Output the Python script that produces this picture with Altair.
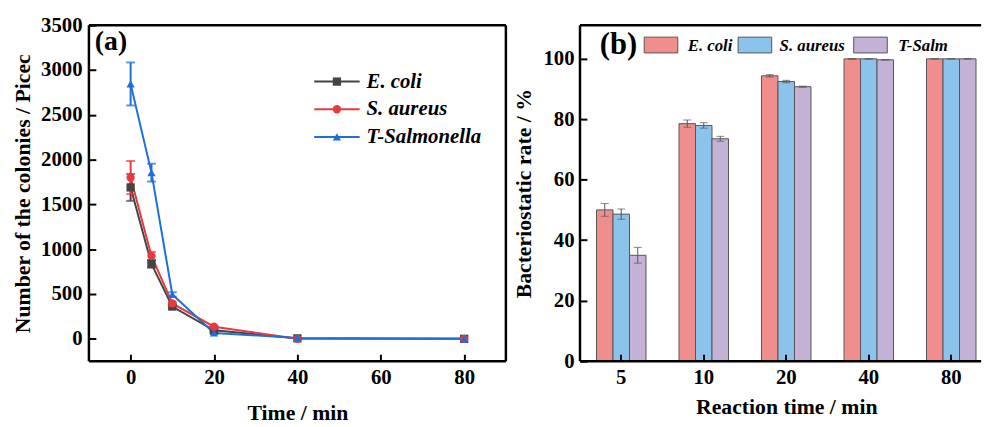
import altair as alt
import pandas as pd

# ---------------- data: panel (a) ----------------
times = [0, 5, 10, 20, 40, 80]
series_a = ["E. coli", "S. aureus", "T-Salmonella"]
ecoli_counts = [1690, 835, 360, 95, 5, 0]
ecoli_err = [150, 40, 20, 10, 0, 0]
saureus_counts = [1800, 925, 395, 135, 0, 0]
saureus_err = [185, 45, 20, 10, 0, 0]
tsal_counts = [2845, 1855, 495, 65, 10, 0]
tsal_err = [240, 100, 25, 10, 0, 0]

# ---------------- data: panel (b) ----------------
reaction_times = ["5", "10", "20", "40", "80"]
series_b = ["E. coli", "S. aureus", "T-Salm"]
ecoli_rate = [50.0, 78.5, 94.3, 99.9, 99.9]
ecoli_rate_err = [2.1, 1.2, 0.4, 0.1, 0.05]
saureus_rate = [48.6, 77.9, 92.4, 99.9, 99.9]
saureus_rate_err = [1.7, 0.9, 0.4, 0.1, 0.05]
tsalm_rate = [35.0, 73.5, 90.7, 99.6, 99.9]
tsalm_rate_err = [2.6, 0.8, 0.2, 0.1, 0.05]

FONT = "Liberation Serif"
colors_a = ["#444444", "#e8393e", "#1f6fd6"]
shapes_a = ["square", "circle", "triangle-up"]
colors_b = ["#f08e8e", "#8bc3ea", "#c3b1d6"]

# ---------- build tables ----------
rows = []
for s, vals, errs in zip(series_a, [ecoli_counts, saureus_counts, tsal_counts],
                         [ecoli_err, saureus_err, tsal_err]):
    for t, v, e in zip(times, vals, errs):
        rows.append({"time": t, "series": s, "count": v, "lo": v - e, "hi": v + e, "err": e})
df_a = pd.DataFrame(rows)
df_a_err = df_a[df_a["err"] > 0]

rows = []
for s, vals, errs in zip(series_b, [ecoli_rate, saureus_rate, tsalm_rate],
                         [ecoli_rate_err, saureus_rate_err, tsalm_rate_err]):
    for t, v, e in zip(reaction_times, vals, errs):
        rows.append({"rtime": t, "strain": s, "rate": v, "rlo": v - e, "rhi": v + e})
df_b = pd.DataFrame(rows)

AX = dict(labelFont=FONT, titleFont=FONT, labelFontSize=21, titleFontSize=22,
          labelFontWeight="bold", titleFontWeight="bold", labelColor="black", titleColor="black",
          zindex=1)

# ---------------- panel (a) ----------------
W_A, H_A = 422, 340
TICK = 7

x_a = alt.X("time:Q", scale=alt.Scale(domain=[-10, 90], nice=False, zero=False),
            axis=alt.Axis(values=[0, 20, 40, 60, 80], title="Time / min", domain=False, ticks=False,
                          grid=True, gridDash=[0, H_A - TICK, TICK, 0], gridColor="black", gridWidth=2,
                          gridOpacity=1, labelPadding=6, titlePadding=15, format="d", **AX))
y_a = alt.Y("count:Q", scale=alt.Scale(domain=[-250, 3500], nice=False, zero=False),
            axis=alt.Axis(values=list(range(0, 3501, 500)), title="Number of the colonies / Picec",
                          domain=False, ticks=False, grid=True, gridDash=[TICK, 3000], gridColor="black",
                          gridWidth=2, gridOpacity=1, labelPadding=7, titlePadding=6, format="d", **AX))
col_a = alt.Color("series:N", scale=alt.Scale(domain=series_a, range=colors_a), legend=None)
shp_a = alt.Shape("series:N", scale=alt.Scale(domain=series_a, range=shapes_a), legend=None)

lines_a = alt.Chart(df_a).mark_line(strokeWidth=2).encode(x=x_a, y=y_a, color=col_a)
err_a = alt.Chart(df_a_err).mark_rule(strokeWidth=2).encode(x="time:Q", y="lo:Q", y2="hi:Q", color=col_a)
caps_lo = alt.Chart(df_a_err).mark_tick(orient="horizontal", size=9, thickness=2).encode(
    x="time:Q", y="lo:Q", color=col_a)
caps_hi = alt.Chart(df_a_err).mark_tick(orient="horizontal", size=9, thickness=2).encode(
    x="time:Q", y="hi:Q", color=col_a)
pts_a = alt.Chart(df_a).mark_point(filled=True, size=70, opacity=1).encode(
    x="time:Q", y="count:Q", color=col_a, shape=shp_a)

legend_layers = []
for i, (s, c, sh) in enumerate(zip(series_a, colors_a, shapes_a)):
    ld = pd.DataFrame({"lname": [s]})
    yy = 57 + 28 * i
    legend_layers.append(alt.Chart(ld).mark_rule(strokeWidth=2, color=c).encode(
        x=alt.value(228), x2=alt.value(274), y=alt.value(yy)))
    legend_layers.append(alt.Chart(ld).mark_point(filled=True, shape=sh, size=70, color=c, opacity=1).encode(
        x=alt.value(251), y=alt.value(yy)))
    legend_layers.append(alt.Chart(ld).mark_text(align="left", baseline="middle", font=FONT, fontSize=21,
                                                 fontStyle="italic", fontWeight="bold", color="black").encode(
        x=alt.value(281), y=alt.value(yy), text="lname:N"))

lab_a = alt.Chart(pd.DataFrame({"t": ["(a)"]})).mark_text(
    align="left", baseline="middle", font=FONT, fontSize=28, fontWeight="bold", color="black").encode(
    x=alt.value(6), y=alt.value(17), text="t:N")

frame_df = pd.DataFrame({"k": [0]})
def frame(w, h, sides):
    out = []
    for side in sides:
        if side == "top":
            enc = dict(x=alt.value(0), x2=alt.value(w), y=alt.value(0))
        elif side == "bottom":
            enc = dict(x=alt.value(0), x2=alt.value(w), y=alt.value(h))
        elif side == "left":
            enc = dict(x=alt.value(0), y=alt.value(0), y2=alt.value(h))
        else:
            enc = dict(x=alt.value(w), y=alt.value(0), y2=alt.value(h))
        out.append(alt.Chart(frame_df).mark_rule(color="black", strokeWidth=2.5).encode(**enc))
    return out

panel_a = alt.layer(lines_a, err_a, caps_lo, caps_hi, pts_a, *legend_layers, lab_a,
                    *frame(W_A, H_A, ["top", "bottom", "left", "right"])).properties(width=W_A, height=H_A)

# ---------------- panel (b) ----------------
W_B, H_B = 406, 340
x_b = alt.X("rtime:N", sort=reaction_times,
            scale=alt.Scale(range=[0, 417.5], paddingInner=0, paddingOuter=0, align=0),
            axis=alt.Axis(title="Reaction time / min", labelAngle=0, domain=False, ticks=False,
                          grid=True, gridDash=[0, H_B - TICK, TICK, 0], gridColor="black", gridWidth=2,
                          gridOpacity=1, labelPadding=6, titlePadding=9, **AX))
xo_b = alt.XOffset("strain:N", sort=series_b, scale=alt.Scale(paddingInner=0, paddingOuter=1))
y_b = alt.Y("rate:Q", scale=alt.Scale(domain=[0, 111], nice=False),
            axis=alt.Axis(values=[0, 20, 40, 60, 80, 100], title="Bacteriostatic rate / %",
                          domain=False, ticks=False, grid=True, gridDash=[TICK, 3000], gridColor="black",
                          gridWidth=2, gridOpacity=1, labelPadding=6, titlePadding=8, format="d", **AX))
col_b = alt.Color("strain:N", scale=alt.Scale(domain=series_b, range=colors_b), legend=None)

xb_plain = alt.X("rtime:N", sort=reaction_times)
xo_plain = alt.XOffset("strain:N", sort=series_b)
bars = alt.Chart(df_b).mark_bar(stroke="#555555", strokeWidth=1).encode(x=x_b, xOffset=xo_b, y=y_b, color=col_b)
err_b = alt.Chart(df_b).mark_rule(color="#555555", strokeWidth=1).encode(
    x=xb_plain, xOffset=xo_plain, y="rlo:Q", y2="rhi:Q")
capb_lo = alt.Chart(df_b).mark_tick(orient="horizontal", size=8, thickness=1, color="#555555").encode(
    x=xb_plain, xOffset=xo_plain, y="rlo:Q")
capb_hi = alt.Chart(df_b).mark_tick(orient="horizontal", size=8, thickness=1, color="#555555").encode(
    x=xb_plain, xOffset=xo_plain, y="rhi:Q")

leg_b = []
rect_x = [65, 160, 277]
text_x = [109, 202, 322]
for s, c, rx, tx in zip(series_b, colors_b, rect_x, text_x):
    ld = pd.DataFrame({"lname": [s]})
    leg_b.append(alt.Chart(ld).mark_rect(color=c, stroke="#555555", strokeWidth=1).encode(
        x=alt.value(rx), x2=alt.value(rx + 34), y=alt.value(12), y2=alt.value(28)))
    leg_b.append(alt.Chart(ld).mark_text(align="left", baseline="middle", font=FONT, fontSize=17,
                                         fontStyle="italic", fontWeight="bold", color="black").encode(
        x=alt.value(tx), y=alt.value(21), text="lname:N"))

lab_b = alt.Chart(pd.DataFrame({"t": ["(b)"]})).mark_text(
    align="left", baseline="middle", font=FONT, fontSize=31, fontWeight="bold", color="black").encode(
    x=alt.value(20), y=alt.value(20), text="t:N")

panel_b = alt.layer(bars, err_b, capb_lo, capb_hi, *leg_b, lab_b,
                    *frame(W_B, H_B, ["top", "bottom", "left"])).properties(width=W_B, height=H_B)

chart = alt.hconcat(panel_a, panel_b, spacing=75, bounds="flush").resolve_scale(
    color="independent", shape="independent"
).properties(
    padding={"left": 12, "top": 12, "right": 0, "bottom": 0}, background="white"
).configure_view(strokeWidth=0)

chart.save("out.html", embed_options={"renderer": "svg", "actions": False})
